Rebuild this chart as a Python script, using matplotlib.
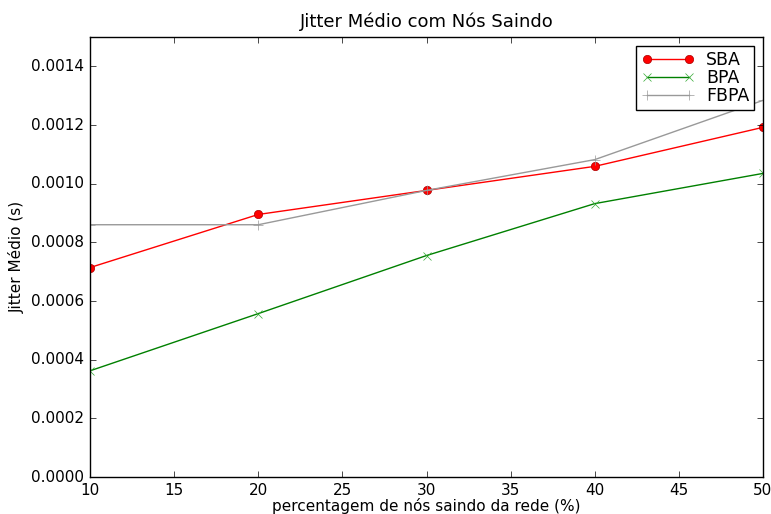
import matplotlib
matplotlib.use("Agg")
import matplotlib.pyplot as plt

plt.style.use("classic")

# percentage of nodes leaving and mean jitter (s) per algorithm
saida = [10, 20, 30, 40, 50]
jitter_sba = [0.000714, 0.000895, 0.000977, 0.001059, 0.001192]
jitter_bpa = [0.000362, 0.000557, 0.000755, 0.000932, 0.001035]
jitter_fbpa = [0.000860, 0.000860, 0.000977, 0.001082, 0.001284]

fig = plt.figure(figsize=(7.71, 5.14), dpi=100)
ax = fig.add_axes([90/771, 37/514, 673/771, 440/514])

ax.plot(saida, jitter_sba, 'o-', color='red', markeredgecolor='#aa0000',
        markersize=6, label='SBA')
ax.plot(saida, jitter_bpa, 'x-', color='green', markeredgecolor='#33aa33',
        markersize=6, label='BPA')
ax.plot(saida, jitter_fbpa, '+-', color='#999999', markersize=7, label='FBPA')

ax.set_xlim(10, 50)
ax.set_ylim(0, 0.0015)
ax.set_yticks([0, 0.0002, 0.0004, 0.0006, 0.0008, 0.0010, 0.0012, 0.0014])
ax.yaxis.set_major_formatter(matplotlib.ticker.FormatStrFormatter('%.4f'))
ax.tick_params(labelsize=11)

ax.set_title(u'Jitter M\u00e9dio com N\u00f3s Saindo', fontsize=13, y=1.008)
ax.set_xlabel(u'percentagem de n\u00f3s saindo da rede (%)', fontsize=11, labelpad=0)
ax.set_ylabel(u'Jitter M\u00e9dio (s)', fontsize=11)

leg = ax.legend(loc='upper right', fontsize=12.5, numpoints=2,
                handlelength=3.0, borderpad=0.3, labelspacing=0.0,
                handletextpad=0.7, borderaxespad=0.5)

fig.savefig('out.png', dpi=100)
